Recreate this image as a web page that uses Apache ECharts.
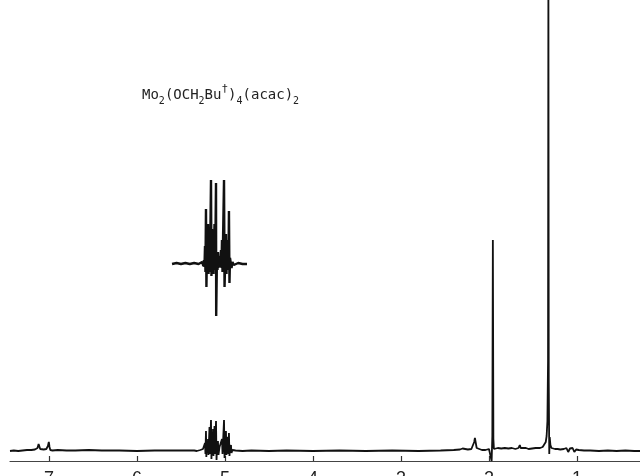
<!DOCTYPE html>
<html>
<head>
<meta charset="utf-8">
<script src="https://cdn.jsdelivr.net/npm/echarts@6/dist/echarts.min.js"></script>
<style>
  html, body { margin: 0; padding: 0; background: #fff; }
  #main { width: 640px; height: 476px; }
</style>
</head>
<body>
<div id="main"></div>
<script>
// chemical shift ticks (ppm)
const tickValues = [1, 2, 3, 4, 5, 6, 7]

// [ppm, intensity], intensity counted from the baseline
const aromaticTrace = [
  [7.443, 0], [7.40, 0.5], [7.35, 0], [7.30, 0.5], [7.25, 1], [7.20, 1], [7.16, 1.5],
  [7.13, 3], [7.118, 7], [7.110, 6], [7.100, 2], [7.085, 2], [7.06, 1.5], [7.03, 2],
  [7.012, 5], [7.002, 9], [6.994, 4], [6.985, 1], [6.96, 0.5], [6.90, 1], [6.80, 0.5],
  [6.70, 0.5], [6.55, 1], [6.40, 0.5], [6.20, 0.5], [6.00, 0], [5.80, 0.5], [5.60, 0.5],
  [5.45, 0.5], [5.35, 0.5]
]

const olefinicTrace = [
  [5.32, 0], [5.28, 1], [5.25, 2], [5.239, 0], [5.227, 8], [5.222, -3], [5.216, 20],
  [5.212, -6], [5.205, 6], [5.199, -2], [5.193, 12], [5.188, -4], [5.176, 24], [5.171, -3],
  [5.159, 31], [5.154, -8], [5.148, 10], [5.142, -4], [5.136, 22], [5.131, -5], [5.119, 25],
  [5.112, -3], [5.102, 30], [5.096, -9], [5.091, 5], [5.085, -3], [5.080, 10], [5.074, -4],
  [5.062, 4], [5.050, 2], [5.034, 12], [5.028, -3], [5.011, 31], [5.005, -7], [4.995, 6],
  [4.989, 20], [4.983, -4], [4.977, 8], [4.966, 14], [4.961, -3], [4.955, 18], [4.949, -5],
  [4.943, 3], [4.932, 6], [4.926, -2], [4.915, 1], [4.88, 0.5], [4.80, 0], [4.70, 0.5],
  [4.50, 0], [4.30, 0.5], [4.00, 0], [3.70, 0.5], [3.40, 0], [3.10, 0.5], [2.80, 0],
  [2.55, 0.5], [2.40, 1]
]

const aliphaticTrace = [
  [2.33, 1.5], [2.30, 2.5], [2.27, 2], [2.24, 1.5], [2.20, 2], [2.18, 4], [2.168, 9],
  [2.160, 13], [2.152, 9], [2.140, 3], [2.12, 1.5], [2.08, 1], [2.04, 1], [2.00, 2],
  [1.980, 4], [1.970, -10], [1.962, 15], [1.956, 211], [1.950, 12], [1.944, 2], [1.93, 3],
  [1.90, 3], [1.86, 2.5], [1.82, 3], [1.78, 2.5], [1.74, 3], [1.70, 2], [1.665, 3],
  [1.650, 6], [1.640, 3], [1.62, 2.5], [1.58, 3], [1.55, 2], [1.53, 4], [1.51, 2.5],
  [1.49, 4], [1.47, 3], [1.45, 4], [1.42, 3], [1.39, 4], [1.37, 5], [1.355, 9], [1.345, 15],
  [1.336, 30], [1.329, 90], [1.325, 480], [1.321, 70], [1.315, -3], [1.310, 14], [1.302, 6],
  [1.29, 3], [1.27, 4], [1.25, 2], [1.22, 2], [1.19, 1.5], [1.15, 2], [1.12, 3], [1.10, -1],
  [1.08, 2.5], [1.05, 3], [1.03, -1], [1.01, 1.5], [0.98, 1], [0.92, 0.5], [0.85, 0.5],
  [0.75, 0], [0.65, 0.5], [0.55, 0], [0.45, 0.5], [0.35, 0], [0.284, 0]
]

// expanded 5 ppm multiplet, intensity counted from its own baseline
const insetTrace = [
  [5.602, 0], [5.55, 1], [5.50, 0], [5.45, 1], [5.40, 0], [5.35, 1], [5.30, 0], [5.26, 2],
  [5.245, -2], [5.239, 4], [5.233, -3], [5.227, 18], [5.222, -8], [5.216, 55], [5.211, -23],
  [5.205, 12], [5.199, -6], [5.193, 40], [5.187, -10], [5.176, 30], [5.171, -8], [5.159, 84],
  [5.154, -12], [5.148, 35], [5.142, -6], [5.136, 30], [5.130, -10], [5.119, 40], [5.112, -6],
  [5.102, 81], [5.100, -52], [5.091, 10], [5.085, -6], [5.080, 12], [5.074, -4], [5.062, 8],
  [5.057, -3], [5.045, 14], [5.040, -4], [5.034, 24], [5.028, -8], [5.011, 84], [5.005, -23],
  [4.995, 12], [4.989, 30], [4.983, -10], [4.977, 20], [4.966, 24], [4.961, -6], [4.955, 53],
  [4.949, -19], [4.943, 6], [4.932, 8], [4.926, -4], [4.915, 2], [4.90, -1], [4.85, 1],
  [4.80, 0], [4.75, 0]
]

const INSET_BASE = 187

const chart = echarts.init(document.getElementById('main'), null, { renderer: 'canvas' })

const titleFont = 'DejaVu Sans Mono'

chart.setOption({
  animation: false,
  backgroundColor: '#fff',
  grid: { left: 10, right: 0, top: 0, bottom: 15, containLabel: false, outerBoundsMode: 'none' },
  xAxis: {
    type: 'value',
    inverse: true,
    min: 0.284,
    max: 7.443,
    splitLine: { show: false },
    axisLine: { onZero: false, lineStyle: { color: '#444', width: 1.2 } },
    axisTick: { inside: true, length: 5, customValues: tickValues, lineStyle: { color: '#333', width: 1.2 } },
    axisLabel: {
      customValues: tickValues,
      margin: 9,
      color: '#222',
      fontSize: 18,
      fontFamily: 'Liberation Sans',
      formatter: (v) => (Number.isInteger(v) ? String(v) : '')
    }
  },
  yAxis: { type: 'value', min: -10, max: 451, show: false },
  graphic: [
    {
      type: 'text',
      left: 142,
      top: 84,
      style: {
        text: '{n|Mo}{s|2}{n|(OCH}{s|2}{n|Bu}{p|†}{n|)}{s|4}{n|(acac)}{s|2}',
        rich: {
          n: { fontSize: 14, lineHeight: 22, fontFamily: titleFont, fill: '#222' },
          s: { fontSize: 10, lineHeight: 10, verticalAlign: 'bottom', fontFamily: titleFont, fill: '#222' },
          p: { fontSize: 11, lineHeight: 14, verticalAlign: 'top', fontFamily: titleFont, fill: '#222' }
        }
      }
    }
  ],
  series: [
    {
      name: 'spectrum',
      type: 'line',
      data: aromaticTrace.concat(olefinicTrace, aliphaticTrace),
      showSymbol: false,
      clip: false,
      smooth: false,
      lineStyle: { color: '#111', width: 1.8 }
    },
    {
      name: 'expansion',
      type: 'line',
      data: insetTrace.map((p) => [p[0], p[1] + INSET_BASE]),
      showSymbol: false,
      clip: false,
      smooth: false,
      lineStyle: { color: '#111', width: 2.4 }
    }
  ]
})
</script>
</body>
</html>
